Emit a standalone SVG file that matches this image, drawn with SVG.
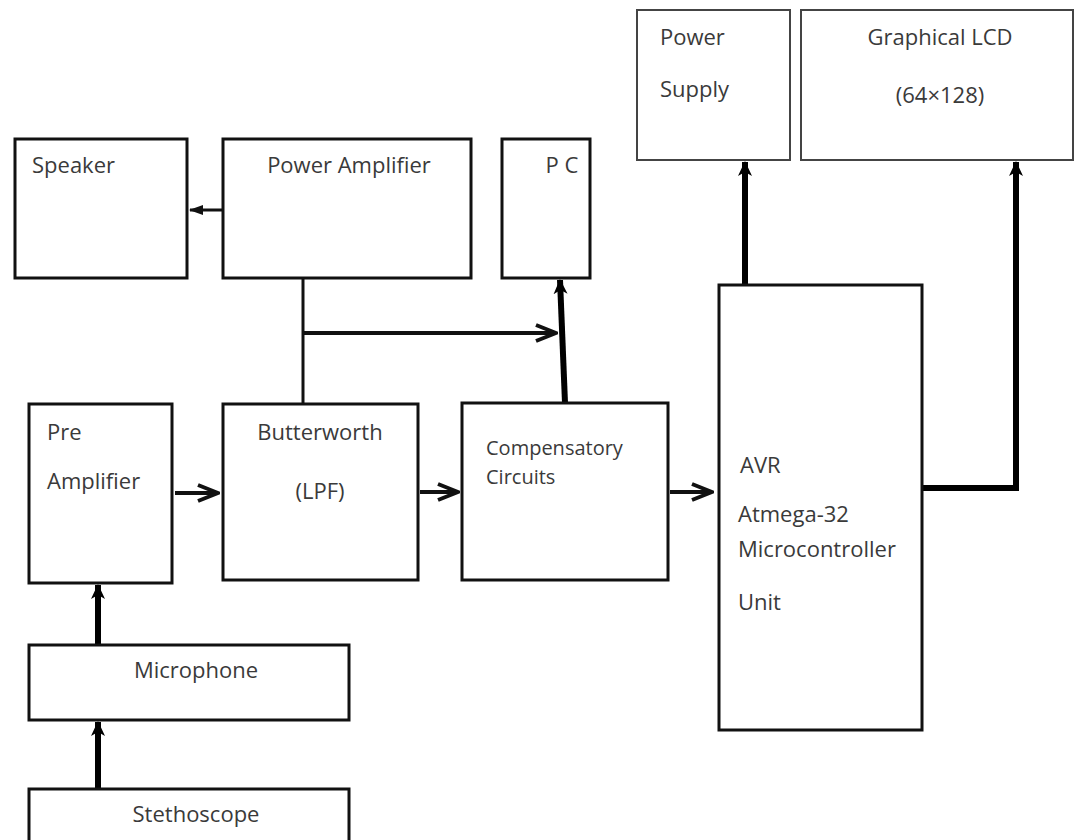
<svg xmlns="http://www.w3.org/2000/svg" width="1075" height="840" viewBox="0 0 1075 840">
<defs>
<style>
.box{fill:#fff;stroke:#111;stroke-width:3}
.box2{fill:#fff;stroke:#444;stroke-width:2}
.t{font-family:"Open Sans","Noto Sans",sans-serif;font-size:22px;fill:#3a3a3a}
.c{text-anchor:middle}
.thin{stroke:#111;stroke-width:3;fill:none}
.mid{stroke:#111;stroke-width:4;fill:none}
.thick{stroke:#000;stroke-width:6;fill:none}
</style>
<marker id="chev" markerUnits="userSpaceOnUse" viewBox="0 0 24 20" refX="22" refY="10" markerWidth="24" markerHeight="20" orient="auto">
<path d="M2,2 L22,10 L2,18" fill="none" stroke="#111" stroke-width="4"/>
</marker>
<marker id="tri" markerUnits="userSpaceOnUse" viewBox="0 0 16 16" refX="14" refY="8" markerWidth="16" markerHeight="16" orient="auto">
<path d="M0,1 L15,8 L0,15 L4,8 Z" fill="#000"/>
</marker>
<marker id="small" markerUnits="userSpaceOnUse" viewBox="0 0 14 12" refX="13" refY="6" markerWidth="14" markerHeight="12" orient="auto">
<path d="M0,1 L14,6 L0,11 Z" fill="#111"/>
</marker>
</defs>
<rect width="1075" height="840" fill="#fff"/>

<g id="connectors">
<line class="thin" x1="223" y1="210" x2="190" y2="210" marker-end="url(#small)"/>
<line class="thin" x1="303" y1="278" x2="303" y2="404"/>
<line class="mid" x1="303" y1="333" x2="556" y2="333" marker-end="url(#chev)"/>
<line class="thick" x1="565" y1="403" x2="560" y2="280" marker-end="url(#tri)"/>
<line class="mid" x1="175" y1="493" x2="218" y2="493" marker-end="url(#chev)"/>
<line class="mid" x1="420" y1="492" x2="458" y2="492" marker-end="url(#chev)"/>
<line class="mid" x1="670" y1="492" x2="712" y2="492" marker-end="url(#chev)"/>
<line class="thick" x1="98" y1="645" x2="98" y2="585" marker-end="url(#tri)"/>
<line class="thick" x1="98" y1="789" x2="98" y2="722" marker-end="url(#tri)"/>
<line class="thick" x1="745" y1="285" x2="745" y2="162" marker-end="url(#tri)"/>
<polyline class="thick" points="922,488 1016,488 1016,162" marker-end="url(#tri)"/>
</g>

<g id="speaker"><rect class="box" x="15" y="139" width="172" height="139"/><text class="t" x="32" y="173">Speaker</text></g>
<g id="power-amplifier"><rect class="box" x="223" y="139" width="248" height="139"/><text class="t c" x="349" y="173">Power Amplifier</text></g>
<g id="pc"><rect class="box" x="502" y="139" width="88" height="139"/><text class="t c" x="562" y="173">P C</text></g>
<g id="power-supply"><rect class="box2" x="637" y="10" width="153" height="150"/><text class="t" x="660" y="45">Power</text><text class="t" x="660" y="97">Supply</text></g>
<g id="graphical-lcd"><rect class="box2" x="801" y="10" width="272" height="150"/><text class="t c" x="940" y="45">Graphical LCD</text><text class="t c" x="940" y="103">(64×128)</text></g>
<g id="avr"><rect class="box" x="719" y="285" width="203" height="445"/><text class="t" x="740" y="473">AVR</text><text class="t" x="738" y="522">Atmega-32</text><text class="t" x="738" y="557">Microcontroller</text><text class="t" x="738" y="610">Unit</text></g>
<g id="pre-amplifier"><rect class="box" x="29" y="404" width="143" height="179"/><text class="t" x="47" y="440">Pre</text><text class="t" x="47" y="489">Amplifier</text></g>
<g id="butterworth"><rect class="box" x="223" y="404" width="195" height="176"/><text class="t c" x="320" y="440">Butterworth</text><text class="t c" x="320" y="499">(LPF)</text></g>
<g id="compensatory"><rect class="box" x="462" y="403" width="206" height="177"/><text class="t" x="486" y="455" style="font-size:20px">Compensatory</text><text class="t" x="486" y="484" style="font-size:20px">Circuits</text></g>
<g id="microphone"><rect class="box" x="29" y="645" width="320" height="75"/><text class="t c" x="196" y="678">Microphone</text></g>
<g id="stethoscope"><rect class="box" x="29" y="789" width="320" height="60"/><text class="t c" x="196" y="822">Stethoscope</text></g>
</svg>
